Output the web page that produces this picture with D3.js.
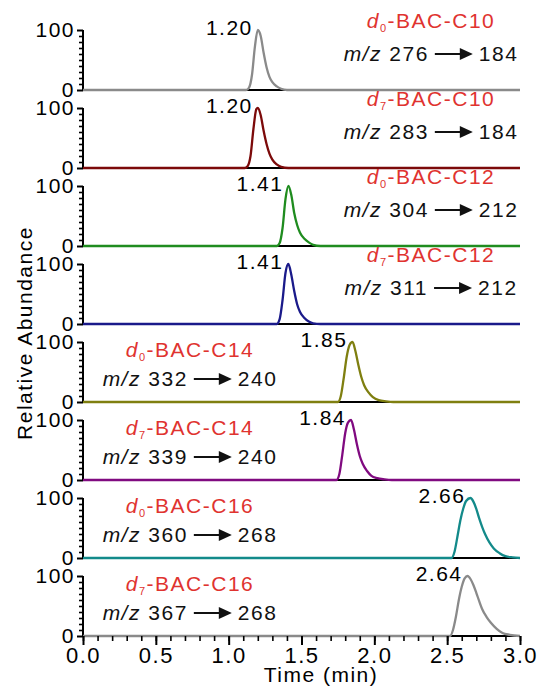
<!DOCTYPE html>
<html><head><meta charset="utf-8">
<script src="https://cdn.jsdelivr.net/npm/d3@7"></script>
<style>
body{margin:0;background:#fff;}
text{font-family:"Liberation Sans",Arial,sans-serif;}
</style></head>
<body><svg id="c" width="543" height="690"></svg>
<script>
// ---- data ----
const isotopes = ["0","7","0","7","0","7","0","7"];
const compounds = ["BAC-C10","BAC-C10","BAC-C12","BAC-C12","BAC-C14","BAC-C14","BAC-C16","BAC-C16"];
const precursors = ["276","283","304","311","332","339","360","367"];
const products = ["184","184","212","212","240","240","268","268"];
const retention = ["1.20","1.20","1.41","1.41","1.85","1.84","2.66","2.64"];
const xTicks = [0,0.5,1.0,1.5,2.0,2.5,3.0];
const yTicks = [0,100];
const trace1 = [[0,0],[1.12,0],[1.14,4],[1.16,25],[1.18,72],[1.20,100],[1.22,90],[1.24,62],[1.26,38],[1.28,22],[1.30,13],[1.33,6],[1.36,2],[1.40,0],[3,0]];
const trace2 = [[0,0],[1.11,0],[1.13,3],[1.15,20],[1.17,65],[1.19,98],[1.20,100],[1.22,88],[1.24,62],[1.26,40],[1.28,24],[1.30,14],[1.33,6],[1.36,2],[1.41,0],[3,0]];
const trace3 = [[0,0],[1.33,0],[1.35,5],[1.37,30],[1.39,78],[1.41,100],[1.43,85],[1.45,55],[1.47,35],[1.49,22],[1.52,12],[1.55,6],[1.58,2],[1.63,0],[3,0]];
const trace4 = [[0,0],[1.33,0],[1.35,8],[1.37,40],[1.39,85],[1.41,100],[1.43,82],[1.45,55],[1.47,33],[1.49,20],[1.52,10],[1.55,4],[1.58,1],[1.63,0],[3,0]];
const trace5 = [[0,0],[1.75,0],[1.77,10],[1.79,40],[1.81,75],[1.83,95],[1.85,100],[1.87,85],[1.89,62],[1.91,42],[1.93,28],[1.96,16],[1.99,8],[2.03,3],[2.08,1],[2.13,0],[3,0]];
const trace6 = [[0,0],[1.74,0],[1.76,10],[1.78,42],[1.80,78],[1.82,96],[1.84,100],[1.86,84],[1.88,60],[1.90,40],[1.92,27],[1.95,15],[1.98,7],[2.02,3],[2.07,1],[2.12,0],[3,0]];
const trace7 = [[0,0],[2.53,0],[2.55,10],[2.57,35],[2.59,62],[2.61,82],[2.63,95],[2.66,100],[2.68,94],[2.70,82],[2.72,66],[2.74,52],[2.76,40],[2.79,26],[2.82,16],[2.86,8],[2.90,3],[2.95,1],[3,0]];
const trace8 = [[0,0],[2.52,0],[2.54,10],[2.56,32],[2.58,60],[2.60,82],[2.62,96],[2.64,100],[2.66,95],[2.68,85],[2.70,72],[2.72,58],[2.74,45],[2.77,32],[2.80,22],[2.84,12],[2.88,5],[2.93,2],[3,0]];
const traces = [trace1,trace2,trace3,trace4,trace5,trace6,trace7,trace8];
const colors = ["#8a8a8a","#7c0a0a","#1f8c1f","#1a1a8a","#7f7f10","#800a80","#138a8a","#8a8a8a"];
const labelRed = "#e0332f";

// ---- layout ----
const svg = d3.select("#c");
const FS = 21, LS = "1.5px";
const x = d3.scaleLinear().domain([0,3]).range([83,520]);
const top0 = 90, step = 78, ph = 60;

traces.forEach((tr,i)=>{
  const y0 = top0 + step*i;
  const y = d3.scaleLinear().domain([0,100]).range([y0, y0-ph]);
  const g = svg.append("g");
  g.append("line").attr("x1",x(0)).attr("x2",x(3)).attr("y1",y(0)).attr("y2",y(0))
    .attr("stroke","#000").attr("stroke-width",2);
  const yMinor = d3.axisLeft(y).tickValues(d3.range(10,100,10)).tickSize(4).tickFormat("");
  const gm = g.append("g").attr("transform",`translate(${x(0)},0)`).call(yMinor);
  gm.select(".domain").remove();
  gm.selectAll("line").attr("stroke-width",1.6);
  const yAx = d3.axisLeft(y).tickValues(yTicks).tickSize(6).tickPadding(2).tickFormat(d3.format("d"));
  const ga = g.append("g").attr("transform",`translate(${x(0)},0)`).call(yAx);
  ga.select(".domain").attr("d",`M0,${y(0)}V${y(100)}`).attr("stroke-width",2);
  ga.selectAll("line").attr("stroke-width",2);
  ga.selectAll("text").attr("font-size",FS).attr("letter-spacing",LS).attr("fill","#000")
    .attr("font-family","Liberation Sans, Arial, sans-serif");
  const line = d3.line().x(d=>x(d[0])).y(d=>y(d[1])).curve(d3.curveMonotoneX);
  g.append("path").datum(tr).attr("d",line).attr("fill","none")
    .attr("stroke",colors[i]).attr("stroke-width",2.3).attr("stroke-linejoin","round");
  const rt = +retention[i];
  g.append("text").attr("x",x(rt)-5).attr("y",y(100)+5).attr("text-anchor","end")
    .attr("font-size",FS).attr("letter-spacing",LS).text(retention[i]);
  const cx = i<4 ? 431 : 190;
  const b1 = i<4 ? y0-62 : y0-45;
  const b2 = i<4 ? y0-29 : y0-16;
  const t = g.append("text").attr("x",cx).attr("y",b1).attr("text-anchor","middle")
    .attr("font-size",FS).attr("letter-spacing",LS).attr("fill",labelRed);
  t.append("tspan").attr("font-style","italic").text("d");
  t.append("tspan").attr("font-size",11).attr("dy",4).text(isotopes[i]);
  t.append("tspan").attr("dy",-4).text("-"+compounds[i]);
  const m = g.append("g");
  const ta = m.append("text").attr("y",b2).attr("font-size",FS).attr("letter-spacing",LS).attr("fill","#111");
  ta.append("tspan").attr("font-style","italic").text("m/z");
  ta.append("tspan").text(" "+precursors[i]);
  const tb = m.append("text").attr("y",b2).attr("font-size",FS).attr("letter-spacing",LS).attr("fill","#111").text(products[i]);
  const w1 = ta.node().getComputedTextLength();
  const w2 = tb.node().getComputedTextLength();
  const gap1 = 6, aw = 38, gap2 = 6;
  const W = w1+gap1+aw+gap2+w2;
  const sx = cx - W/2;
  ta.attr("x",sx);
  const ax0 = sx+w1+gap1, ax1 = ax0+aw, ay = b2-7;
  m.append("line").attr("x1",ax0).attr("x2",ax1-10).attr("y1",ay).attr("y2",ay).attr("stroke","#111").attr("stroke-width",2);
  m.append("path").attr("d",`M${ax1-13},${ay-6}L${ax1},${ay}L${ax1-13},${ay+6}Z`).attr("fill","#111");
  tb.attr("x",ax1+gap2);

  if(i===traces.length-1){
    const xMinor = d3.axisBottom(x).tickValues(d3.range(0,31,1).map(v=>v/10)).tickSize(5).tickFormat("");
    const gx2 = g.append("g").attr("transform",`translate(0,${y0})`).call(xMinor);
    gx2.select(".domain").remove();
    gx2.selectAll("line").attr("stroke-width",1.6);
    const xAx = d3.axisBottom(x).tickValues(xTicks).tickSize(9).tickPadding(2).tickFormat(d3.format(".1f"));
    const gx = g.append("g").attr("transform",`translate(0,${y0})`).call(xAx);
    gx.select(".domain").remove();
    gx.selectAll("line").attr("stroke-width",2);
    gx.selectAll("text").attr("font-size",22).attr("letter-spacing",LS).attr("fill","#000")
      .attr("font-family","Liberation Sans, Arial, sans-serif");
  }
});

svg.append("text").attr("x",321).attr("y",682).attr("text-anchor","middle")
  .attr("font-size",FS).attr("letter-spacing",LS).text("Time (min)");
svg.append("text").attr("transform","translate(32,333) rotate(-90)").attr("text-anchor","middle")
  .attr("font-size",FS).attr("letter-spacing",LS).text("Relative Abundance");
</script></body></html>
